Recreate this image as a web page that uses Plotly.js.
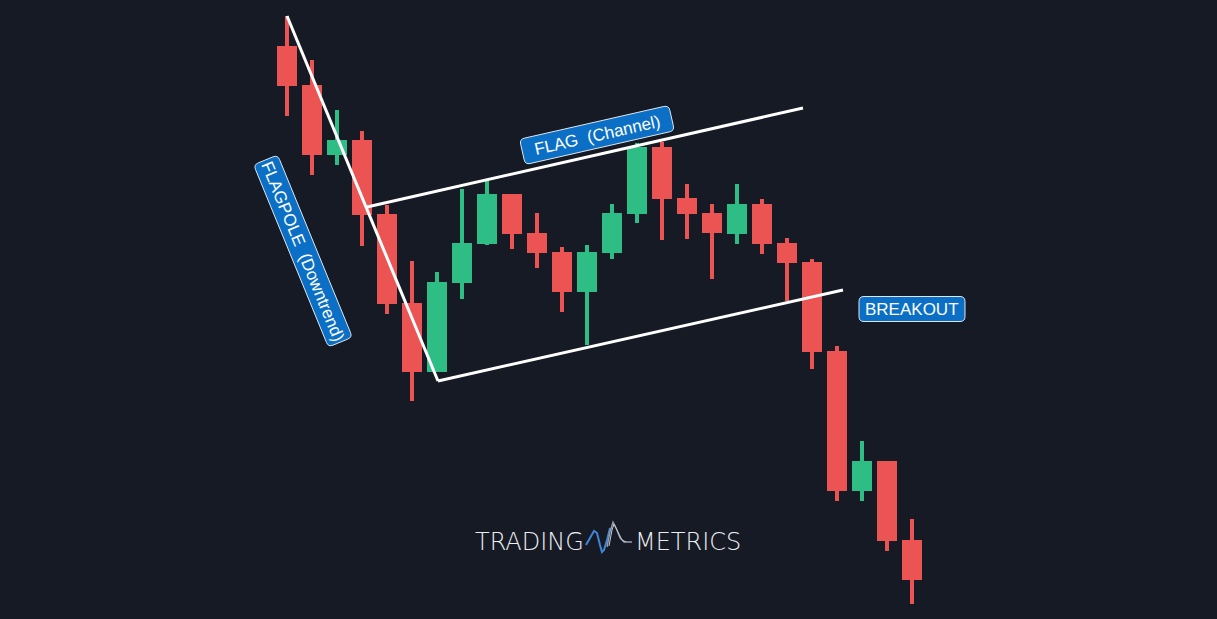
<!DOCTYPE html>
<html>
<head>
<meta charset="utf-8">
<script src="https://cdn.plot.ly/plotly-3.0.1.min.js"></script>
<style>
  html, body { margin: 0; padding: 0; background: #161a25; }
  #chart { width: 1217px; height: 619px; }
</style>
</head>
<body>
<div id="chart"></div>
<script>
// ---- Data (price units) ----
var bars   = [0,1,2,3,4,5,6,7,8,9,10,11,12,13,14,15,16,17,18,19,20,21,22,23,24,25];
var opens  = [571,532,466,477,403,314,249,338,377,423,384,365,329,368,407,470,419,404,387,413,374,355,266,130,156,77];
var highs  = [603,559,509,488,414,358,347,430,438,425,406,372,374,415,476,477,435,415,435,420,381,360,273,178,158,100];
var lows   = [503,444,454,373,305,218,247,320,374,370,351,307,274,360,396,379,380,340,375,365,318,250,118,118,68,15];
var closes = [535,466,477,406,317,249,335,374,423,387,368,329,365,404,470,422,407,388,413,377,358,269,130,156,80,41];

// Trend lines drawn on the chart (bar index, price)
var flagpoleX = [0, 6.04];
var flagpoleY = [603, 238];
var upperChannelX = [3.2, 20.64];
var upperChannelY = [412, 511];
var lowerChannelX = [6.04, 22.24];
var lowerChannelY = [238, 329];

// Labels
var labelTexts  = ['FLAGPOLE  (Downtrend)', 'FLAG  (Channel)', 'BREAKOUT'];
var labelX      = [0.64, 12.4, 25];
var labelY      = [368, 484, 310];
var labelAngles = [67.7, -12.8, 0];

var logoWords = ['TRADING', 'METRICS'];

// ---- Styles ----
var W = 1217, H = 619;
var XR = [-11.48, 37.2], YR = [0, 619];
var BG = '#161a25';
var RED = '#ec5353';
var GREEN = '#2dbd85';
var LABEL_BG = '#0b6fc6';
var LABEL_BORDER = '#dfe7f0';
var boxLen = [197, 153, 106];
var boxHt  = [26, 26, 25];

var traces = [
  {
    type: 'candlestick',
    x: bars, open: opens, high: highs, low: lows, close: closes,
    increasing: { line: { color: GREEN, width: 4 }, fillcolor: GREEN },
    decreasing: { line: { color: RED, width: 4 }, fillcolor: RED },
    whiskerwidth: 0,
    hoverinfo: 'skip',
    showlegend: false
  },
  { type: 'scatter', mode: 'lines', x: flagpoleX, y: flagpoleY,
    line: { color: '#ffffff', width: 3 }, hoverinfo: 'skip', showlegend: false },
  { type: 'scatter', mode: 'lines', x: upperChannelX, y: upperChannelY,
    line: { color: '#ffffff', width: 3 }, hoverinfo: 'skip', showlegend: false },
  { type: 'scatter', mode: 'lines', x: lowerChannelX, y: lowerChannelY,
    line: { color: '#ffffff', width: 3 }, hoverinfo: 'skip', showlegend: false }
];

// pixel helpers (axes fill the whole figure)
function xpx(v) { return (v - XR[0]) / (XR[1] - XR[0]) * W; }
function ypx(v) { return H - (v - YR[0]) / (YR[1] - YR[0]) * H; }
function toPaper(p) { return (p[0] / W).toFixed(5) + ',' + (1 - p[1] / H).toFixed(5); }

// rounded, rotated label box
function roundedBox(cx, cy, L, Ht, angDeg, r) {
  var a = angDeg * Math.PI / 180, c = Math.cos(a), s = Math.sin(a);
  function T(u, v) { return [cx + u * c - v * s, cy + u * s + v * c]; }
  var hw = L / 2, hh = Ht / 2;
  var d = 'M' + toPaper(T(-hw + r, -hh)) +
    ' L' + toPaper(T(hw - r, -hh)) +
    ' Q' + toPaper(T(hw, -hh)) + ' ' + toPaper(T(hw, -hh + r)) +
    ' L' + toPaper(T(hw, hh - r)) +
    ' Q' + toPaper(T(hw, hh)) + ' ' + toPaper(T(hw - r, hh)) +
    ' L' + toPaper(T(-hw + r, hh)) +
    ' Q' + toPaper(T(-hw, hh)) + ' ' + toPaper(T(-hw, hh - r)) +
    ' L' + toPaper(T(-hw, -hh + r)) +
    ' Q' + toPaper(T(-hw, -hh)) + ' ' + toPaper(T(-hw + r, -hh)) + ' Z';
  return d;
}

var shapes = [];
var annotations = [];
labelTexts.forEach(function (t, i) {
  var cx = xpx(labelX[i]), cy = ypx(labelY[i]);
  shapes.push({
    type: 'path', xref: 'paper', yref: 'paper', layer: 'above',
    path: roundedBox(cx, cy, boxLen[i], boxHt[i], labelAngles[i], 5),
    fillcolor: LABEL_BG, line: { color: LABEL_BORDER, width: 1 }
  });
  annotations.push({
    x: labelX[i], y: labelY[i], xref: 'x', yref: 'y',
    xanchor: 'center', yanchor: 'middle',
    text: t, showarrow: false, textangle: labelAngles[i],
    font: { family: 'Liberation Sans, Arial, sans-serif', size: 17, color: '#ffffff' },
    borderpad: 0
  });
});

// Logo words
annotations.push({
  x: 586 / W, y: 1 - 542 / H, xref: 'paper', yref: 'paper',
  xanchor: 'right', yanchor: 'middle', showarrow: false,
  text: logoWords[0],
  font: { family: 'DejaVu Sans, sans-serif', size: 24, weight: 200, color: '#eceef2' }
});
annotations.push({
  x: 633 / W, y: 1 - 542 / H, xref: 'paper', yref: 'paper',
  xanchor: 'left', yanchor: 'middle', showarrow: false,
  text: logoWords[1],
  font: { family: 'DejaVu Sans, sans-serif', size: 24, weight: 200, color: '#eceef2' }
});

// Logo wave icon
function P(pts) {
  return pts.map(function (p, i) { return (i === 0 ? 'M' : 'L') + toPaper(p); }).join(' ');
}
shapes.push(
  { type: 'path', xref: 'paper', yref: 'paper',
    path: P([[586, 545], [590, 538], [594, 531], [597, 533], [600, 545], [602, 552], [604, 550], [607, 540], [610, 528]]),
    line: { color: '#3f86d9', width: 2 } },
  { type: 'path', xref: 'paper', yref: 'paper',
    path: P([[607, 547], [610, 532], [613, 522], [616, 528], [620, 538], [624, 542], [632, 542]]),
    line: { color: '#9aa0aa', width: 1.3 } },
  { type: 'path', xref: 'paper', yref: 'paper',
    path: P([[609, 546], [612, 530], [614, 524], [618, 532], [622, 540], [626, 542]]),
    line: { color: '#c7ccd3', width: 1 } }
);

var layout = {
  width: W, height: H,
  margin: { l: 0, r: 0, t: 0, b: 0 },
  paper_bgcolor: BG, plot_bgcolor: BG,
  showlegend: false,
  boxgap: 0.36, boxgroupgap: 0, boxmode: 'overlay',
  xaxis: { range: XR, visible: false, rangeslider: { visible: false }, fixedrange: true },
  yaxis: { range: YR, visible: false, fixedrange: true },
  annotations: annotations,
  shapes: shapes
};

Plotly.newPlot('chart', traces, layout, { displayModeBar: false, staticPlot: true });
</script>
</body>
</html>
